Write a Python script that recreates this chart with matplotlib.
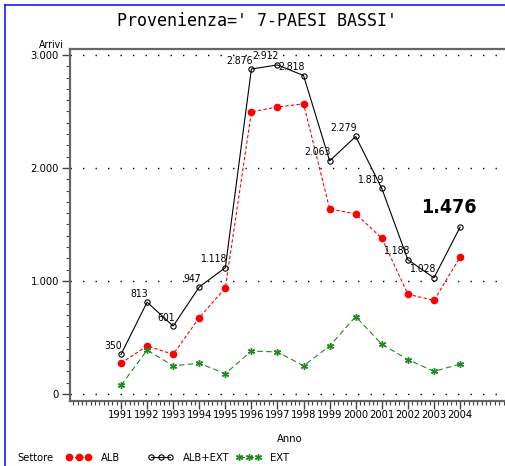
import matplotlib
matplotlib.use('Agg')
import matplotlib.pyplot as plt
from matplotlib import font_manager
from matplotlib.font_manager import FontProperties
from matplotlib.lines import Line2D
from matplotlib.ticker import MultipleLocator, FuncFormatter

years = [1991, 1992, 1993, 1994, 1995, 1996, 1997, 1998, 1999, 2000, 2001, 2002, 2003, 2004]
alb_ext = [350, 813, 601, 947, 1118, 2876, 2912, 2818, 2063, 2279, 1819, 1188, 1028, 1476]
ext = [76, 388, 250, 272, 180, 380, 372, 250, 425, 685, 440, 305, 200, 265]
alb = [t - e for t, e in zip(alb_ext, ext)]


def find_narrow(bold=False):
    # look for a condensed / narrow face, else fall back to Liberation Sans
    for f in font_manager.fontManager.ttflist:
        p = f.fname.lower()
        if ('narrow' in p or 'condensed' in p) and ('italic' not in p and 'oblique' not in p):
            is_bold = 'bold' in p
            if is_bold == bold and 'light' not in p and 'semi' not in p:
                return f.fname
    return None


reg_file = find_narrow(False)
bold_file = find_narrow(True)
if reg_file:
    def fp(size, bold=False):
        return FontProperties(fname=(bold_file if bold and bold_file else reg_file), size=size)
    scale = 1.0
else:
    def fp(size, bold=False):
        return FontProperties(family='Liberation Sans', size=size,
                              weight='bold' if bold else 'normal')
    scale = 0.88


def fmt(v):
    return f"{int(v):,}".replace(',', '.')


W, H = 506, 466
fig = plt.figure(figsize=(W / 100, H / 100), dpi=100)
ax = fig.add_axes([70 / W, 1 - 401 / H, 1 - 70 / W, (401 - 49) / H])

ax.plot(years, alb, color='red', linestyle=(0, (3, 2)), linewidth=0.8,
        marker='o', markersize=4.5, markerfacecolor='red', markeredgecolor='red', label='ALB')
ax.plot(years, alb_ext, color='black', linewidth=0.8,
        marker='o', markersize=3.8, markerfacecolor='none', markeredgecolor='black',
        markeredgewidth=0.8, label='ALB+EXT')
ax.plot(years, ext, color='#1e8c1e', linestyle=(0, (5, 3)), linewidth=0.8,
        marker=(6, 2, 0), markersize=5, markeredgewidth=1.0, label='EXT')

# value labels on ALB+EXT
for x, v in zip(years[:-1], alb_ext[:-1]):
    ax.annotate(fmt(v), (x, v), xytext=(1, 2.5), textcoords='offset points',
                ha='right', va='bottom', fontproperties=fp(7.5 * scale))
ax.annotate(fmt(alb_ext[-1]), (years[-1], alb_ext[-1]), xytext=(-8, 14.5),
            textcoords='offset points', ha='center', va='center',
            fontproperties=fp(14 * scale, bold=True))

ax.set_xlim(1991 - 51 / 26.08, 1991 + (W - 121) / 26.08)
ax.set_ylim(-62, 3053)

ax.set_xticks(years)
ax.set_xticklabels([str(y) for y in years])
ax.xaxis.set_minor_locator(MultipleLocator(1 / 6))
ax.set_yticks([0, 1000, 2000, 3000])
ax.yaxis.set_major_formatter(FuncFormatter(lambda v, p: fmt(v)))
ax.yaxis.set_minor_locator(MultipleLocator(100))

ax.tick_params(which='major', direction='out', length=6, width=1, color='#444444', pad=2)
ax.tick_params(axis='x', which='major', pad=0.5)
ax.tick_params(which='minor', direction='out', length=3, width=0.8, color='#444444')
for lab in ax.get_xticklabels() + ax.get_yticklabels():
    lab.set_fontproperties(fp(8 * scale))

ax.yaxis.grid(True, linestyle=(0, (1, 8)), color='black', linewidth=1)
ax.set_axisbelow(True)

for s in ['left', 'bottom', 'top']:
    ax.spines[s].set_color('#666666')
    ax.spines[s].set_linewidth(1.6)
ax.spines['right'].set_visible(False)

ax.set_xlabel('Anno', fontproperties=fp(8 * scale))
ax.xaxis.set_label_coords((290 - 70) / (W - 70), -(434 - 401) / (401 - 49))

fig.text(64 / W, 1 - 45 / H, 'Arrivi', ha='right', va='center', fontproperties=fp(7.5 * scale))
fig.text(257 / W, 1 - 21 / H, "Provenienza=' 7-PAESI BASSI'", ha='center', va='center',
         fontsize=12, family='DejaVu Sans Mono')

# legend
fig.text(17 / W, 1 - 458 / H, 'Settore', ha='left', va='center', fontproperties=fp(8 * scale))
handles = ax.get_lines()
legend_x = [66, 148, 236]
for h, lx in zip(handles, legend_x):
    fig.legend([h], [h.get_label()], loc='center left', bbox_to_anchor=(lx / W, 1 - 458 / H),
               frameon=False, numpoints=3, handlelength=2.3, handletextpad=0.8,
               borderpad=0, borderaxespad=0, prop=fp(8 * scale))

# blue frame
fig.add_artist(Line2D([5 / W, 5 / W], [0, 1 - 5 / H], transform=fig.transFigure, color='#1a1aff', lw=1.2))
fig.add_artist(Line2D([5 / W, 1], [1 - 5 / H, 1 - 5 / H], transform=fig.transFigure, color='#1a1aff', lw=1.2))

fig.savefig('out.png', dpi=100)
